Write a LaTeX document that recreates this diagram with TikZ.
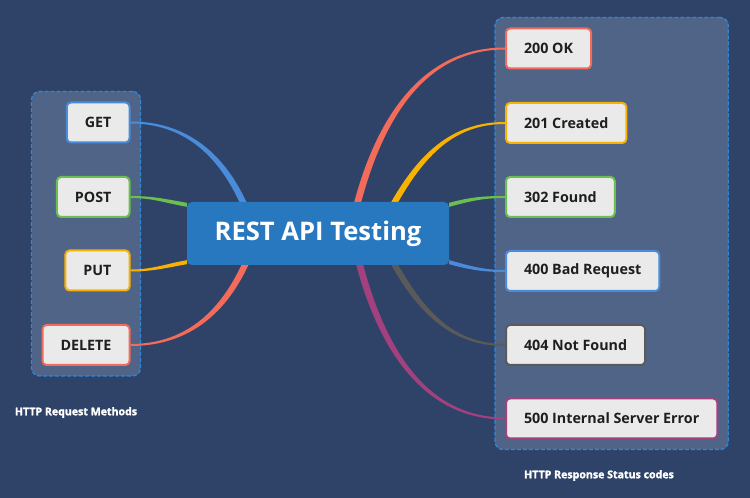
\documentclass[tikz,border=0pt]{standalone}
\usepackage{fontspec}
\setmainfont{Open Sans}
\newfontfamily\heavyfont[BoldFeatures={FakeBold=1.6}]{Open Sans}
\usetikzlibrary{calc,fit}
\definecolor{bg}{HTML}{2F4368}
\definecolor{grpfill}{HTML}{506487}
\definecolor{grpborder}{HTML}{2F88DA}
\definecolor{cfill}{HTML}{2878C0}
\definecolor{leaffill}{HTML}{EAEAEA}
\definecolor{leaftext}{HTML}{1E1E1E}
\definecolor{cred}{HTML}{F26B5B}
\definecolor{corange}{HTML}{F9B200}
\definecolor{cgreen}{HTML}{6BBF4E}
\definecolor{cblue}{HTML}{4A8CDC}
\definecolor{cgray}{HTML}{5A5A5A}
\definecolor{cpurple}{HTML}{A3417F}
\pgfdeclarelayer{back}\pgfdeclarelayer{mid}\pgfsetlayers{back,mid,main}
\newcommand\taper[6]{%
  \fill[#1] ($(#2)+#3$) to[out=#4,in=#6] ($(#5)+(0,1)$) -- ($(#5)+(0,-1)$) to[out=#6,in=#4] ($(#2)-#3$) -- cycle;}
\begin{document}
\begin{tikzpicture}[x=1pt,y=1pt,
  leaf/.style={draw=#1, line width=2pt, fill=leaffill, rounded corners=4pt,
    minimum height=40pt, inner xsep=18pt, text=leaftext,
    font=\fontsize{14.3}{16}\selectfont\bfseries},
  group/.style={draw=grpborder, dash pattern=on 4pt off 2pt, line width=1.2pt,
    fill=grpfill, rounded corners=8pt, inner sep=10pt},
  central/.style={fill=cfill, rounded corners=5pt, minimum width=262pt,
    minimum height=63pt, text=white, font=\fontsize{25.6}{30}\selectfont\bfseries},
  grplabel/.style={text=white, font=\heavyfont\fontsize{10.6}{13}\selectfont\bfseries}]
\begin{pgfonlayer}{back}
\fill[bg] (0,0) rectangle (750,498);
\end{pgfonlayer}
\useasboundingbox (0,0) rectangle (750,498);

\node[central] (c) at (318,264.5) {REST API Testing};

\node[leaf=cblue, anchor=east] (get) at (130.5,375.5) {GET};
\node[leaf=cgreen, anchor=east] (post) at (130.5,301) {POST};
\node[leaf=corange, anchor=east] (put) at (130.5,227.5) {PUT};
\node[leaf=cred, anchor=east] (delete) at (130.5,153) {DELETE};

\node[leaf=cred, anchor=west] (s200) at (505,449.5) {200 OK};
\node[leaf=corange, anchor=west] (s201) at (505,375) {201 Created};
\node[leaf=cgreen, anchor=west] (s302) at (505,301) {302 Found};
\node[leaf=cblue, anchor=west] (s400) at (505,227) {400 Bad Request};
\node[leaf=cgray, anchor=west] (s404) at (505,153) {404 Not Found};
\node[leaf=cpurple, anchor=west] (s500) at (505,79.5) {500 Internal Server Error};

\begin{pgfonlayer}{back}
\node[group, fit=(get)(post)(put)(delete)] (lg) {};
\node[group, fit=(s200)(s201)(s302)(s400)(s404)(s500)] (rg) {};
\end{pgfonlayer}

\node[grplabel] (lgl) at (76,85.5) {HTTP Request Methods};
\node[grplabel] (rgl) at (599,22.5) {HTTP Response Status codes};

\coordinate (pget) at ($(c.north west)+(56,0)$);
\coordinate (ppost) at ($(c.north west)+(0,-3)$);
\coordinate (pput) at ($(c.south west)+(0,3)$);
\coordinate (pdel) at ($(c.south west)+(58,0)$);
\coordinate (p200) at ($(c.north west)+(171,0)$);
\coordinate (p201) at ($(c.north west)+(208,0)$);
\coordinate (p302) at ($(c.north east)+(0,-3)$);
\coordinate (p400) at ($(c.south east)+(0,3)$);
\coordinate (p404) at ($(c.south west)+(208,0)$);
\coordinate (p500) at ($(c.south west)+(173,0)$);

\begin{pgfonlayer}{mid}
\taper{cblue}{pget}{(3.5,0)}{115}{get.east}{0}
\taper{cgreen}{ppost}{(0,2)}{170}{post.east}{0}
\taper{corange}{pput}{(0,2)}{190}{put.east}{0}
\taper{cred}{pdel}{(-3.5,0)}{245}{delete.east}{0}
\taper{cred}{p200}{(-3.5,0)}{75}{s200.west}{180}
\taper{corange}{p201}{(-3.5,0)}{60}{s201.west}{180}
\taper{cgreen}{p302}{(0,2)}{15}{s302.west}{180}
\taper{cblue}{p400}{(0,2)}{-15}{s400.west}{180}
\taper{cgray}{p404}{(3.5,0)}{-60}{s404.west}{180}
\taper{cpurple}{p500}{(3.5,0)}{-75}{s500.west}{180}
\end{pgfonlayer}
\end{tikzpicture}
\end{document}
